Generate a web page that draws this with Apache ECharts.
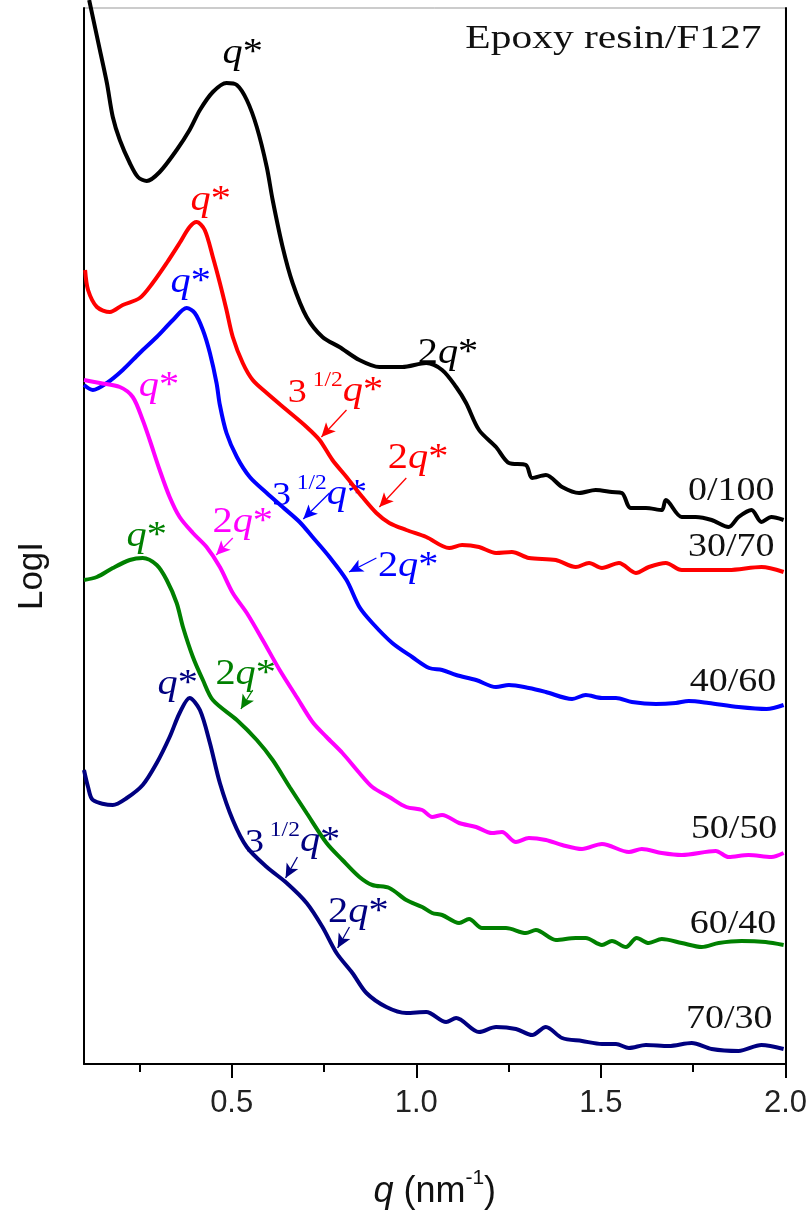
<!DOCTYPE html>
<html>
<head>
<meta charset="utf-8">
<script src="https://cdn.jsdelivr.net/npm/echarts@6/dist/echarts.min.js"></script>
<style>
  html, body { margin: 0; padding: 0; background: #fff; }
  #chart { width: 810px; height: 1220px; }
</style>
</head>
<body>
<div id="chart"></div>
<script>
// SAXS profiles of epoxy resin / F127 blends, curves offset vertically (LogI, arb. units)
const xTicks = [0.5, 1.0, 1.5, 2.0];
const xMinorTicks = [0.25, 0.75, 1.25, 1.75];

const blendNames = ['0/100', '30/70', '40/60', '50/50', '60/40', '70/30'];
const blendColors = ['#000000', '#ff0000', '#0000ff', '#ff00ff', '#008000', '#000080'];

const curve0_100 = [
  [0.114, 10.64], [0.143, 10.14], [0.162, 9.81], [0.178, 9.47], [0.197, 9.24], [0.224, 9.01],
  [0.246, 8.87], [0.270, 8.83], [0.305, 8.92], [0.351, 9.14], [0.386, 9.34], [0.414, 9.54],
  [0.449, 9.72], [0.486, 9.81], [0.514, 9.79], [0.541, 9.64], [0.568, 9.37], [0.595, 8.97],
  [0.611, 8.64], [0.638, 8.17], [0.665, 7.81], [0.703, 7.47], [0.746, 7.27], [0.792, 7.17],
  [0.846, 7.04], [0.900, 6.97], [0.962, 6.97], [1.027, 7.01], [1.070, 6.94], [1.108, 6.77],
  [1.135, 6.61], [1.170, 6.34], [1.216, 6.17], [1.251, 6.01], [1.297, 5.99], [1.314, 5.86],
  [1.351, 5.89], [1.395, 5.77], [1.441, 5.71], [1.486, 5.74], [1.530, 5.72], [1.557, 5.71],
  [1.581, 5.56], [1.622, 5.56], [1.665, 5.54], [1.676, 5.64], [1.719, 5.47], [1.757, 5.47],
  [1.800, 5.44], [1.846, 5.37], [1.873, 5.47], [1.908, 5.54], [1.935, 5.42], [1.962, 5.47],
  [1.995, 5.44]
];
const curve30_70 = [
  [0.103, 7.94], [0.111, 7.74], [0.135, 7.57], [0.170, 7.52], [0.205, 7.59], [0.251, 7.66],
  [0.286, 7.81], [0.324, 8.01], [0.359, 8.21], [0.386, 8.37], [0.405, 8.42], [0.427, 8.34],
  [0.449, 8.07], [0.468, 7.81], [0.486, 7.54], [0.503, 7.27], [0.530, 7.01], [0.557, 6.84],
  [0.595, 6.71], [0.649, 6.54], [0.703, 6.37], [0.738, 6.24], [0.773, 6.04], [0.811, 5.87],
  [0.854, 5.67], [0.892, 5.51], [0.927, 5.41], [0.973, 5.34], [1.027, 5.27], [1.089, 5.16],
  [1.124, 5.19], [1.170, 5.17], [1.216, 5.11], [1.259, 5.12], [1.305, 5.06], [1.378, 5.04],
  [1.432, 4.97], [1.468, 5.01], [1.503, 4.96], [1.549, 5.01], [1.595, 4.91], [1.630, 4.97],
  [1.676, 5.01], [1.719, 4.94], [1.784, 4.94], [1.846, 4.94], [1.935, 4.97], [1.995, 4.92]
];
const curve40_60 = [
  [0.100, 6.79], [0.124, 6.74], [0.162, 6.81], [0.205, 6.94], [0.251, 7.11], [0.297, 7.27],
  [0.341, 7.44], [0.378, 7.56], [0.400, 7.51], [0.422, 7.34], [0.441, 7.11], [0.459, 6.81],
  [0.468, 6.59], [0.486, 6.31], [0.514, 6.07], [0.549, 5.87], [0.595, 5.71], [0.638, 5.57],
  [0.684, 5.42], [0.719, 5.27], [0.765, 5.07], [0.811, 4.84], [0.846, 4.57], [0.881, 4.41],
  [0.935, 4.21], [0.989, 4.07], [1.035, 3.96], [1.070, 3.94], [1.108, 3.89], [1.162, 3.84],
  [1.216, 3.77], [1.251, 3.79], [1.305, 3.76], [1.351, 3.72], [1.422, 3.65], [1.459, 3.69],
  [1.503, 3.66], [1.541, 3.66], [1.584, 3.62], [1.649, 3.60], [1.703, 3.61], [1.738, 3.63],
  [1.792, 3.61], [1.873, 3.57], [1.949, 3.55], [1.995, 3.59]
];
const curve50_50 = [
  [0.100, 6.84], [0.143, 6.81], [0.197, 6.77], [0.232, 6.67], [0.259, 6.44], [0.278, 6.24],
  [0.305, 5.94], [0.332, 5.67], [0.359, 5.47], [0.395, 5.31], [0.432, 5.17], [0.468, 4.97],
  [0.503, 4.71], [0.541, 4.51], [0.584, 4.24], [0.630, 3.94], [0.676, 3.67], [0.719, 3.42],
  [0.757, 3.27], [0.800, 3.11], [0.846, 2.91], [0.881, 2.77], [0.927, 2.67], [0.973, 2.57],
  [1.016, 2.54], [1.043, 2.47], [1.070, 2.49], [1.116, 2.41], [1.162, 2.37], [1.205, 2.31],
  [1.232, 2.32], [1.270, 2.22], [1.305, 2.26], [1.351, 2.24], [1.395, 2.19], [1.449, 2.15],
  [1.503, 2.20], [1.576, 2.12], [1.611, 2.15], [1.665, 2.11], [1.719, 2.09], [1.811, 2.13],
  [1.846, 2.07], [1.900, 2.09], [1.962, 2.07], [1.995, 2.11]
];
const curve60_40 = [
  [0.100, 4.84], [0.135, 4.87], [0.178, 4.96], [0.224, 5.04], [0.259, 5.06], [0.297, 4.99],
  [0.324, 4.84], [0.351, 4.61], [0.368, 4.37], [0.395, 4.07], [0.422, 3.84], [0.449, 3.64],
  [0.514, 3.44], [0.568, 3.24], [0.611, 3.04], [0.657, 2.77], [0.703, 2.51], [0.757, 2.21],
  [0.800, 2.04], [0.846, 1.87], [0.881, 1.79], [0.927, 1.76], [0.973, 1.64], [1.016, 1.57],
  [1.043, 1.51], [1.070, 1.49], [1.116, 1.41], [1.143, 1.45], [1.178, 1.36], [1.243, 1.36],
  [1.297, 1.31], [1.324, 1.34], [1.378, 1.24], [1.432, 1.26], [1.459, 1.26], [1.503, 1.19],
  [1.530, 1.23], [1.568, 1.17], [1.597, 1.26], [1.630, 1.21], [1.665, 1.25], [1.719, 1.21],
  [1.773, 1.17], [1.819, 1.21], [1.881, 1.23], [1.946, 1.22], [1.995, 1.19]
];
const curve70_30 = [
  [0.100, 2.94], [0.111, 2.77], [0.124, 2.64], [0.178, 2.59], [0.216, 2.66], [0.259, 2.79],
  [0.297, 3.01], [0.332, 3.27], [0.359, 3.51], [0.386, 3.66], [0.414, 3.54], [0.441, 3.21],
  [0.468, 2.81], [0.503, 2.44], [0.541, 2.17], [0.595, 1.97], [0.649, 1.81], [0.703, 1.61],
  [0.746, 1.37], [0.784, 1.11], [0.827, 0.91], [0.865, 0.71], [0.919, 0.57], [0.973, 0.51],
  [1.027, 0.52], [1.081, 0.42], [1.108, 0.46], [1.170, 0.32], [1.216, 0.37], [1.270, 0.35],
  [1.314, 0.29], [1.351, 0.37], [1.395, 0.26], [1.449, 0.23], [1.503, 0.20], [1.541, 0.20],
  [1.576, 0.16], [1.622, 0.19], [1.684, 0.18], [1.746, 0.21], [1.800, 0.15], [1.873, 0.13],
  [1.935, 0.19], [1.995, 0.15]
];
const curves = [curve0_100, curve30_70, curve40_60, curve50_50, curve60_40, curve70_30];

// peak labels: [curve index, kind, q, LogI] (label centre)
const peakLabels = [
  [0, 'q', 0.530, 10.12], [0, '2q', 1.086, 7.12],
  [1, 'q', 0.443, 8.65], [1, 'r3q', 0.781, 6.74], [1, '2q', 1.005, 6.07],
  [2, 'q', 0.389, 7.83], [2, 'r3q', 0.738, 5.71], [2, '2q', 0.978, 4.99],
  [3, 'q', 0.303, 6.79], [3, '2q', 0.530, 5.43],
  [4, 'q', 0.270, 5.29], [4, '2q', 0.538, 3.91],
  [5, 'q', 0.354, 3.81], [5, 'r3q', 0.665, 2.24], [5, '2q', 0.843, 1.53]
];
// arrows: [curve index, q from, LogI from, q to, LogI to]
const peakArrows = [
  [1, 0.811, 6.54, 0.743, 6.27], [1, 0.973, 5.86, 0.900, 5.57],
  [2, 0.765, 5.71, 0.694, 5.45], [2, 0.892, 5.06, 0.818, 4.92],
  [3, 0.503, 5.26, 0.458, 5.09],
  [4, 0.557, 3.74, 0.525, 3.55],
  [5, 0.678, 2.07, 0.646, 1.86], [5, 0.819, 1.37, 0.787, 1.16]
];
// blend labels (right edge) and title
const blendLabelPos = [[1.97, 5.73], [1.97, 5.17], [1.975, 3.82], [1.978, 2.35], [1.975, 1.40], [1.965, 0.45]];
const titleText = 'Epoxy resin/F127';

const serif = '"Liberation Serif", "Times New Roman", serif';
const sans = '"Liberation Sans", Arial, sans-serif';

const series = curves.map((c, i) => ({
  name: blendNames[i],
  type: 'line',
  data: c,
  showSymbol: false,
  symbol: 'none',
  smooth: 0.3,
  clip: false,
  lineStyle: { color: blendColors[i], width: 4 },
  markLine: {
    silent: true,
    symbol: ['none', 'arrow'],
    symbolSize: [10, 14],
    label: { show: false },
    lineStyle: { color: blendColors[i], width: 1.3, type: 'solid' },
    data: peakArrows.filter(a => a[0] === i).map(a => [
      { coord: [a[1], a[2]] },
      { coord: [a[3], a[4]] }
    ])
  }
}));

const option = {
  animation: false,
  backgroundColor: '#fff',
  grid: { left: 84, right: 23, top: 8, bottom: 156, show: true, borderColor: '#999', borderWidth: 1 },
  xAxis: [{
    type: 'value', min: 0.1, max: 2.0, position: 'bottom',
    axisLine: { lineStyle: { color: '#000', width: 2 } },
    axisTick: { customValues: xTicks, length: 14, lineStyle: { color: '#000', width: 2 } },
    axisLabel: {
      customValues: xTicks, margin: 24, fontFamily: sans, fontSize: 31, color: '#222',
      formatter: v => v.toFixed(1)
    },
    splitLine: { show: false },
    name: '{i|q}{n| (nm}{s|-1}{n|)}',
    nameLocation: 'middle',
    nameGap: 104,
    nameTextStyle: {
      rich: {
        i: { fontFamily: sans, fontSize: 36, fontStyle: 'italic', color: '#111', lineHeight: 42, verticalAlign: 'bottom' },
        n: { fontFamily: sans, fontSize: 36, color: '#111', lineHeight: 42, verticalAlign: 'bottom' },
        s: { fontFamily: sans, fontSize: 21, color: '#111', lineHeight: 26, verticalAlign: 'top' }
      }
    }
  }, {
    type: 'value', min: 0.1, max: 2.0, position: 'bottom',
    axisLine: { show: false },
    axisTick: { customValues: xMinorTicks, length: 8, lineStyle: { color: '#000', width: 2 } },
    axisLabel: { show: false },
    splitLine: { show: false }
  }],
  yAxis: [{
    type: 'value', min: 0, max: 10.56, position: 'left',
    axisLine: { show: true, lineStyle: { color: '#000', width: 2 } },
    axisTick: { show: false },
    axisLabel: { show: false },
    splitLine: { show: false }
  }, {
    type: 'value', min: 0, max: 10.56, position: 'right',
    axisLine: { show: true, lineStyle: { color: '#000', width: 2 } },
    axisTick: { show: false },
    axisLabel: { show: false },
    splitLine: { show: false }
  }],
  series: series
};

const chart = echarts.init(document.getElementById('chart'));
chart.setOption(option);

const toPx = (q, v) => chart.convertToPixel({ gridIndex: 0 }, [q, v]);
const labelRich = color => ({
  n: { fontFamily: serif, fontSize: 36, fill: color, lineHeight: 40, verticalAlign: 'bottom' },
  i: { fontFamily: serif, fontSize: 36, fontStyle: 'italic', fill: color, lineHeight: 40, verticalAlign: 'bottom' },
  t: { fontFamily: serif, fontSize: 34, fill: color, lineHeight: 40, verticalAlign: 'bottom' },
  s: { fontFamily: serif, fontSize: 21, fill: color, lineHeight: 22, verticalAlign: 'top' }
});
const labelText = {
  q: '{i|q}{n|*}',
  '2q': '{n|2}{i|q}{n|*}',
  r3q: '{t|3}{s| 1/2}{i|q}{n|*}'
};

const graphics = [];
peakLabels.forEach(p => {
  const pos = toPx(p[2], p[3]);
  graphics.push({
    type: 'text', x: pos[0], y: pos[1], scaleX: 1.12, silent: true,
    style: {
      text: labelText[p[1]], rich: labelRich(blendColors[p[0]]),
      align: 'center', verticalAlign: 'middle'
    }
  });
});
blendLabelPos.forEach((p, i) => {
  const pos = toPx(p[0], p[1]);
  graphics.push({
    type: 'text', x: pos[0], y: pos[1], scaleX: 1.15, silent: true,
    style: {
      text: blendNames[i], fontFamily: serif, fontSize: 33, fill: '#111',
      align: 'right', verticalAlign: 'middle'
    }
  });
});
const tPos = toPx(1.935, 10.25);
graphics.push({
  type: 'text', x: tPos[0], y: tPos[1], scaleX: 1.22, silent: true,
  style: {
    text: titleText, fontFamily: serif, fontSize: 34, fill: '#111',
    align: 'right', verticalAlign: 'middle'
  }
});
// y-axis title, rotated, sits a little below the grid's middle as in the source figure
const yNamePos = toPx(0.1, 4.88);
graphics.push({
  type: 'text', x: yNamePos[0] - 52, y: yNamePos[1], rotation: Math.PI / 2, silent: true,
  style: {
    text: 'LogI', fontFamily: sans, fontSize: 35, fill: '#111',
    align: 'center', verticalAlign: 'middle'
  }
});

chart.setOption({ graphic: graphics });
</script>
</body>
</html>
